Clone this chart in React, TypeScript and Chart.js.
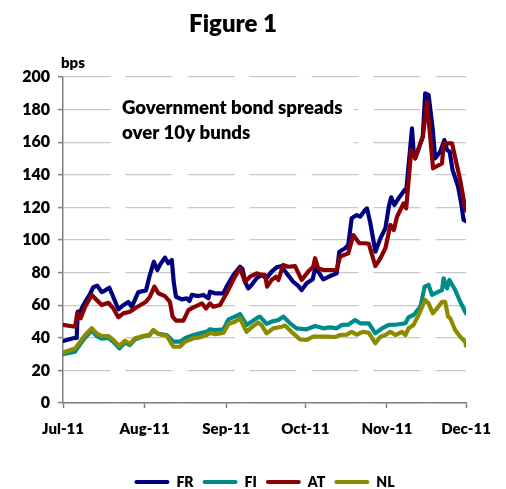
import React, { useEffect, useRef } from "react";
import { Chart, registerables } from "chart.js";

Chart.register(...registerables);

const FONT = "Lato";
const WEIGHT = "800";

const titleText = "Figure 1";
const unitLabel = "bps";
const noteLines = ["Government bond spreads", "over 10y bunds"];

// x = days since 1 Jul 2011
const monthTickDays = [0, 31, 62, 92, 123, 153];
const monthTickLabels = ["Jul-11", "Aug-11", "Sep-11", "Oct-11", "Nov-11", "Dec-11"];
const yTicks = [0, 20, 40, 60, 80, 100, 120, 140, 160, 180, 200];

const frDays = [0, 3.8, 5.2, 5.6, 6.2, 7.1, 8.4, 10.3, 11.5, 13.0, 14.7, 15.9, 17.6, 19.1, 21.0, 22.9, 24.8, 26.1, 28.6, 31.5, 32.8, 34.5, 35.8, 36.8, 38.7, 40.0, 41.3, 42.1, 42.9, 45.1, 47.0, 48.0, 48.9, 51.4, 53.3, 55.2, 55.8, 57.7, 60.9, 62.1, 64.7, 67.2, 68.2, 69.1, 70.3, 71.6, 73.5, 75.4, 77.3, 79.2, 81.1, 83.0, 84.9, 87.4, 89.3, 90.6, 92.5, 94.8, 95.7, 96.9, 98.8, 101.4, 103.9, 104.9, 107.1, 108.3, 109.6, 111.5, 112.8, 114.7, 115.4, 116.7, 118.6, 120.5, 122.4, 123.7, 124.6, 125.8, 127.4, 129.7, 130.3, 132.5, 133.1, 133.7, 135.3, 136.6, 137.5, 138.8, 140.4, 141.3, 143.2, 144.8, 145.8, 146.8, 147.9, 150.0, 151.2, 152.1, 153];
const frValues = [38, 39.7, 40, 56, 55, 58, 62, 67, 71, 72, 68, 69, 70.7, 65, 57.5, 60, 62, 59, 68, 69, 77.5, 86.7, 81.6, 84.7, 89.2, 85.7, 87.7, 73.4, 65.2, 63.6, 64.2, 62.6, 66.3, 65.6, 66.3, 64.2, 68.3, 67.3, 67.3, 71.4, 78.5, 83.6, 82, 74.4, 70.3, 72.4, 76.5, 78.5, 76.5, 80.6, 83.2, 84, 79.5, 74.4, 71.8, 69.3, 73.4, 75.9, 82.6, 80.6, 75.9, 77.9, 79.5, 92.8, 94.9, 96.9, 113.3, 115.3, 114.3, 118.4, 119.4, 110.2, 92.8, 101, 107.2, 120.6, 126.2, 121.5, 125.6, 130.7, 130, 168.5, 154.2, 150.1, 157.4, 163.4, 190, 189, 167.5, 150.1, 154.2, 161.3, 155.2, 154.2, 143, 132.7, 122.4, 112.3, 111.5];

const fiDays = [0, 4.6, 6.5, 8.4, 10.9, 12.8, 14.7, 17.2, 19.1, 21.4, 23.5, 25.4, 27.3, 30.5, 32.8, 34.3, 36.2, 39.4, 41.9, 44.4, 46.3, 49.5, 52.0, 54.6, 55.8, 57.7, 60.9, 62.8, 65.3, 67.2, 69.7, 71.6, 74.1, 74.8, 77.3, 79.2, 81.8, 83.6, 86.2, 88.7, 92.5, 95.7, 98.8, 101.4, 103.9, 105.8, 108.3, 110.9, 112.8, 116.1, 118.6, 121.1, 123.7, 126.2, 130.0, 131.2, 133.1, 135.7, 137.3, 138.8, 140.1, 142.6, 143.9, 144.5, 145.8, 146.7, 148.9, 150.8, 152.7, 153];
const fiValues = [30, 31.5, 36, 40, 44.5, 41, 39.5, 40, 37.5, 33.5, 37, 35.5, 39, 41, 41.5, 44.5, 42.5, 41.7, 37.6, 37.6, 39.7, 41.7, 42.7, 43.8, 45.2, 44.8, 45.2, 51.3, 53, 54.6, 47.9, 49.9, 52.6, 53, 48.5, 49.9, 50.9, 53, 48.9, 45.8, 45.2, 47.2, 45.8, 46.4, 45.8, 47.9, 48, 50.9, 48.9, 48.9, 42.7, 45.8, 47.9, 48, 48.9, 52.6, 54, 59.1, 71.4, 72.4, 66.3, 68.3, 69.3, 76.5, 70.3, 75.5, 69.3, 62.1, 56, 55];

const atDays = [0, 4.6, 5.4, 6.7, 8.4, 10.9, 12.8, 14.7, 17.2, 19.1, 21.0, 22.9, 25.4, 28.0, 31.5, 33.0, 34.7, 36.2, 38.7, 40.6, 41.6, 42.9, 45.7, 47.6, 49.5, 51.4, 52.7, 54.3, 55.8, 57.1, 59.6, 62.1, 65.3, 67.2, 69.1, 71.0, 73.5, 74.8, 76.7, 77.5, 79.2, 80.9, 81.8, 83.6, 85.5, 88.1, 90.6, 93.1, 95.0, 95.7, 96.9, 98.8, 103.9, 105.2, 108.3, 110.2, 112.5, 114.7, 116.1, 118.6, 120.5, 122.4, 124.3, 125.6, 126.8, 129.3, 130.3, 132.2, 133.7, 136.6, 138.2, 140.5, 143.9, 144.5, 147.7, 150.8, 152.7, 153];
const atValues = [47.9, 46.8, 55, 52, 59, 66.3, 63.2, 60.1, 61.5, 58, 52.6, 55, 56, 58.7, 62.1, 65.2, 71.4, 67.3, 65.6, 62.1, 53, 50.5, 50.5, 57, 58.7, 60.1, 61.1, 58, 61.1, 59, 60.1, 67.3, 77.5, 82.6, 74.4, 77.5, 79.5, 79, 78.5, 71.4, 75.5, 77.5, 75.5, 84.7, 83.6, 84, 75.5, 80.6, 83.6, 88.8, 82.6, 81.6, 81.6, 89.9, 91.8, 103, 98, 98, 97.6, 84, 88.8, 94.9, 109.2, 106.1, 114.3, 122.4, 119.4, 155.2, 150.1, 163.4, 184.8, 144, 147, 159.3, 159.3, 136.8, 119.4, 118];

const nlDays = [0, 4.6, 6.5, 8.4, 10.9, 12.8, 14.7, 17.2, 19.1, 21.4, 23.5, 25.4, 27.3, 30.5, 32.8, 34.3, 36.2, 39.4, 41.9, 44.4, 46.3, 49.5, 52.0, 54.6, 55.8, 57.7, 60.9, 62.8, 65.3, 67.2, 69.7, 71.6, 74.1, 75.4, 77.3, 79.8, 83.0, 84.3, 87.4, 90.0, 92.5, 95.0, 100.1, 103.3, 105.2, 107.7, 109.6, 111.5, 114.0, 116.1, 118.6, 120.5, 122.4, 124.3, 126.2, 128.7, 130.0, 131.2, 133.1, 135.0, 137.5, 138.8, 140.4, 142.0, 143.9, 145.1, 146.2, 147.0, 148.9, 150.8, 152.7, 153];
const nlValues = [31, 33.5, 37.6, 41.7, 45.8, 42.7, 41.1, 41.1, 38.7, 35, 38.2, 36.2, 39.7, 41.1, 41.7, 44.8, 42.3, 41.1, 34.5, 34.5, 37.6, 39.7, 40.3, 41.7, 43, 42.3, 43, 48.5, 49.9, 52, 43.7, 46.4, 49.3, 47.8, 42.7, 45.8, 46.8, 47.5, 42.7, 39, 38.7, 40.7, 40.7, 40.5, 41.7, 42, 43.7, 42, 43.7, 43, 36.6, 40.7, 41.7, 43.7, 41.7, 43.7, 41.7, 45.8, 47.9, 54, 63.2, 61.1, 55, 58, 62.1, 62, 53, 52, 44.8, 40.7, 37.6, 35];

const seriesNames = ["FR", "FI", "AT", "NL"];
const seriesColors = ["#000080", "#008B8B", "#8B0000", "#8B8B00"];

const toPoints = (days: number[], vals: number[]) => days.map((d, i) => ({ x: d, y: vals[i] }));

const notePlugin = {
  id: "noteText",
  beforeDatasetsDraw(chart: any) {
    const { ctx } = chart;
    ctx.save();
    ctx.fillStyle = "#ffffff";
    ctx.fillRect(116, 96, 238, 52);
    ctx.fillStyle = "#000000";
    ctx.textBaseline = "alphabetic";
    ctx.textAlign = "left";
    ctx.font = `${WEIGHT} 18.6px ${FONT}`;
    ctx.fillText(noteLines[0], 122, 114);
    ctx.fillText(noteLines[1], 122, 139);
    ctx.restore();
  },
  afterDraw(chart: any) {
    const { ctx } = chart;
    ctx.save();
    ctx.fillStyle = "#000000";
    ctx.textBaseline = "alphabetic";
    ctx.textAlign = "left";
    ctx.font = `${WEIGHT} 15px ${FONT}`;
    ctx.fillText(unitLabel, 61, 68);
    ctx.restore();
  },
};

export default function App() {
  const canvasRef = useRef<HTMLCanvasElement | null>(null);

  useEffect(() => {
    const canvas = canvasRef.current;
    if (!canvas) return;
    const allDays = [frDays, fiDays, atDays, nlDays];
    const allVals = [frValues, fiValues, atValues, nlValues];
    const datasets = [3, 2, 1, 0].map((i) => ({
      label: seriesNames[i],
      data: toPoints(allDays[i], allVals[i]),
      borderColor: seriesColors[i],
      backgroundColor: seriesColors[i],
      borderWidth: 4.2,
      pointRadius: 0,
      pointHoverRadius: 0,
      tension: 0,
      borderJoinStyle: "round" as const,
      borderCapStyle: "round" as const,
      fill: false,
    }));

    const chart = new Chart(canvas, {
      type: "line",
      data: { datasets },
      plugins: [notePlugin],
      options: {
        animation: false,
        responsive: false,
        maintainAspectRatio: false,
        events: [],
        layout: { padding: { left: 0, right: 40, top: 0, bottom: 0 } },
        plugins: {
          title: {
            display: true,
            text: titleText,
            color: "#000",
            font: { family: FONT, size: 24, weight: WEIGHT },
            padding: { top: 10, bottom: 38.2 },
          },
          legend: {
            display: true,
            position: "bottom",
            fullSize: false,
            reverse: true,
            labels: {
              color: "#000",
              font: { family: FONT, size: 14, weight: WEIGHT },
              boxWidth: 35,
              boxHeight: 4,
              padding: 9,
              generateLabels: (c: any) =>
                Chart.defaults.plugins.legend.labels
                  .generateLabels(c)
                  .map((l: any) => ({ ...l, lineWidth: 0, fillStyle: l.strokeStyle, borderRadius: 2 })),
            },
          },
          tooltip: { enabled: false },
        },
        scales: {
          x: {
            type: "linear",
            min: 0,
            max: 153,
            afterBuildTicks: (scale: any) => {
              scale.ticks = monthTickDays.map((v) => ({ value: v }));
            },
            afterFit: (scale: any) => {
              scale.height = 63;
            },
            ticks: {
              autoSkip: false,
              maxRotation: 0,
              minRotation: 0,
              padding: 12,
              color: "#000",
              font: { family: FONT, size: 15, weight: WEIGHT },
              callback: (v: any) => {
                const i = monthTickDays.indexOf(Number(v));
                return i >= 0 ? monthTickLabels[i] : "";
              },
            },
            grid: {
              drawOnChartArea: false,
              drawTicks: true,
              tickLength: 5,
              tickColor: "#808080",
              tickWidth: 1.5,
            },
            border: { display: true, color: "#808080", width: 1.5 },
          },
          y: {
            min: 0,
            max: 200,
            afterBuildTicks: (scale: any) => {
              scale.ticks = yTicks.map((v) => ({ value: v }));
            },
            afterFit: (scale: any) => {
              scale.width = 63;
            },
            ticks: {
              padding: 8,
              color: "#000",
              font: { family: FONT, size: 16, weight: WEIGHT },
            },
            grid: {
              color: "#c8c8c8",
              lineWidth: 1.2,
              drawTicks: true,
              tickLength: 5,
              tickColor: "#808080",
              tickWidth: 1.5,
            },
            border: { display: true, color: "#808080", width: 1.5, dash: [47, 15] },
          },
        },
      } as any,
    });
    return () => chart.destroy();
  }, []);

  return (
    <div style={{ position: "fixed", left: 0, top: 0, width: 506, height: 489, overflow: "hidden", background: "#fff" }}>
      <canvas ref={canvasRef} width={506} height={499} style={{ display: "block", width: 506, height: 499 }} />
    </div>
  );
}
